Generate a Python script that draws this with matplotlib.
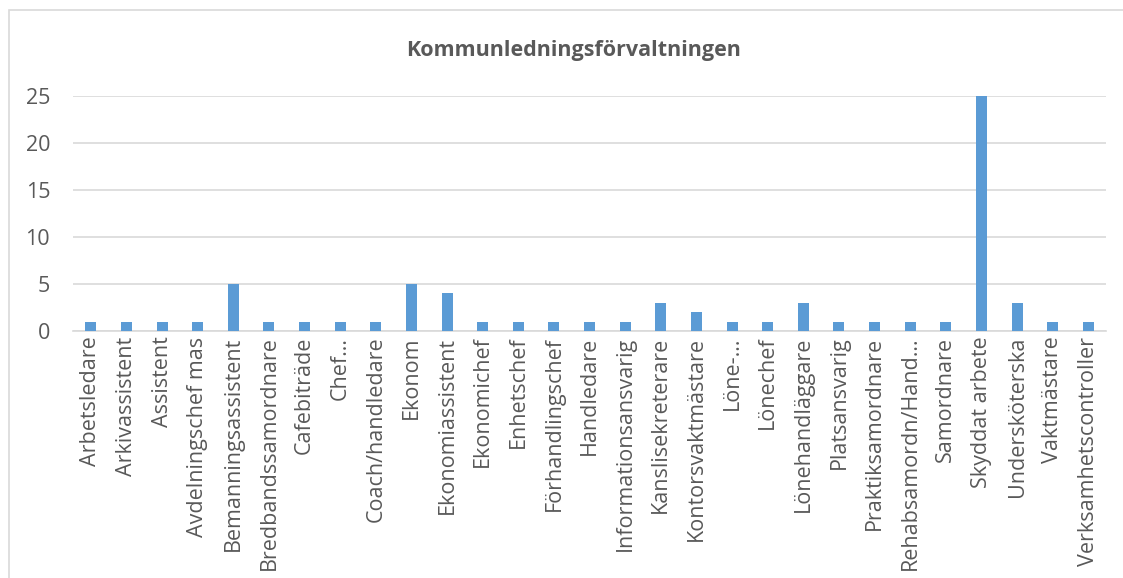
import matplotlib
matplotlib.use("Agg")
import matplotlib.pyplot as plt
from matplotlib.patches import Rectangle

plt.rcParams['font.family'] = ['Open Sans', 'DejaVu Sans']

# Data
categories = [
    'Arbetsledare', 'Arkivassistent', 'Assistent', 'Avdelningschef mas',
    'Bemanningsassistent', 'Bredbandssamordnare', 'Cafebiträde', 'Chef…',
    'Coach/handledare', 'Ekonom', 'Ekonomiassistent', 'Ekonomichef',
    'Enhetschef', 'Förhandlingschef', 'Handledare', 'Informationsansvarig',
    'Kanslisekreterare', 'Kontorsvaktmästare', 'Löne-…', 'Lönechef',
    'Lönehandläggare', 'Platsansvarig', 'Praktiksamordnare',
    'Rehabsamordn/Hand…', 'Samordnare', 'Skyddat arbete', 'Undersköterska',
    'Vaktmästare', 'Verksamhetscontroller',
]
values = [1, 1, 1, 1, 5, 1, 1, 1, 1, 5, 4, 1, 1, 1, 1, 1, 3, 2, 1, 1,
          3, 1, 1, 1, 1, 25, 3, 1, 1]
yticks = [0, 5, 10, 15, 20, 25]

text_color = '#595959'
grid_color = '#d9d9d9'
bar_color = '#5b9bd5'

fig = plt.figure(figsize=(11.23, 5.78), dpi=100)
ax = fig.add_axes([0.065, 0.4273, 0.92, 0.4066])

# Chart border (cropped on right/bottom)
fig.patches.append(Rectangle((9 / 1123, -0.1), 1.2, 1 - 10 / 578 + 0.1,
                             transform=fig.transFigure, fill=False,
                             edgecolor=grid_color, linewidth=1.2))

x = range(len(categories))
ax.bar(x, values, width=0.31, color=bar_color, zorder=3)

ax.set_xlim(-0.5, len(categories) - 0.5)
ax.set_ylim(0, 25)
ax.set_yticks(yticks)
ax.set_xticks(list(x))
ax.set_xticklabels(categories, rotation=90, fontsize=15.5, color=text_color)
ax.tick_params(axis='y', labelsize=15.5, colors=text_color, length=0, pad=16.5)
ax.tick_params(axis='x', length=0, pad=4)
ax.grid(axis='y', color=grid_color, linewidth=1.2, zorder=0)
for s in ['top', 'right', 'left']:
    ax.spines[s].set_visible(False)
ax.spines['bottom'].set_color(grid_color)
ax.spines['bottom'].set_linewidth(1.2)

fig.text(0.511, 0.913, 'Kommunledningsförvaltningen', ha='center', va='center',
         fontsize=15.5, fontweight='bold', color=text_color)

fig.savefig('out.png', dpi=100)
